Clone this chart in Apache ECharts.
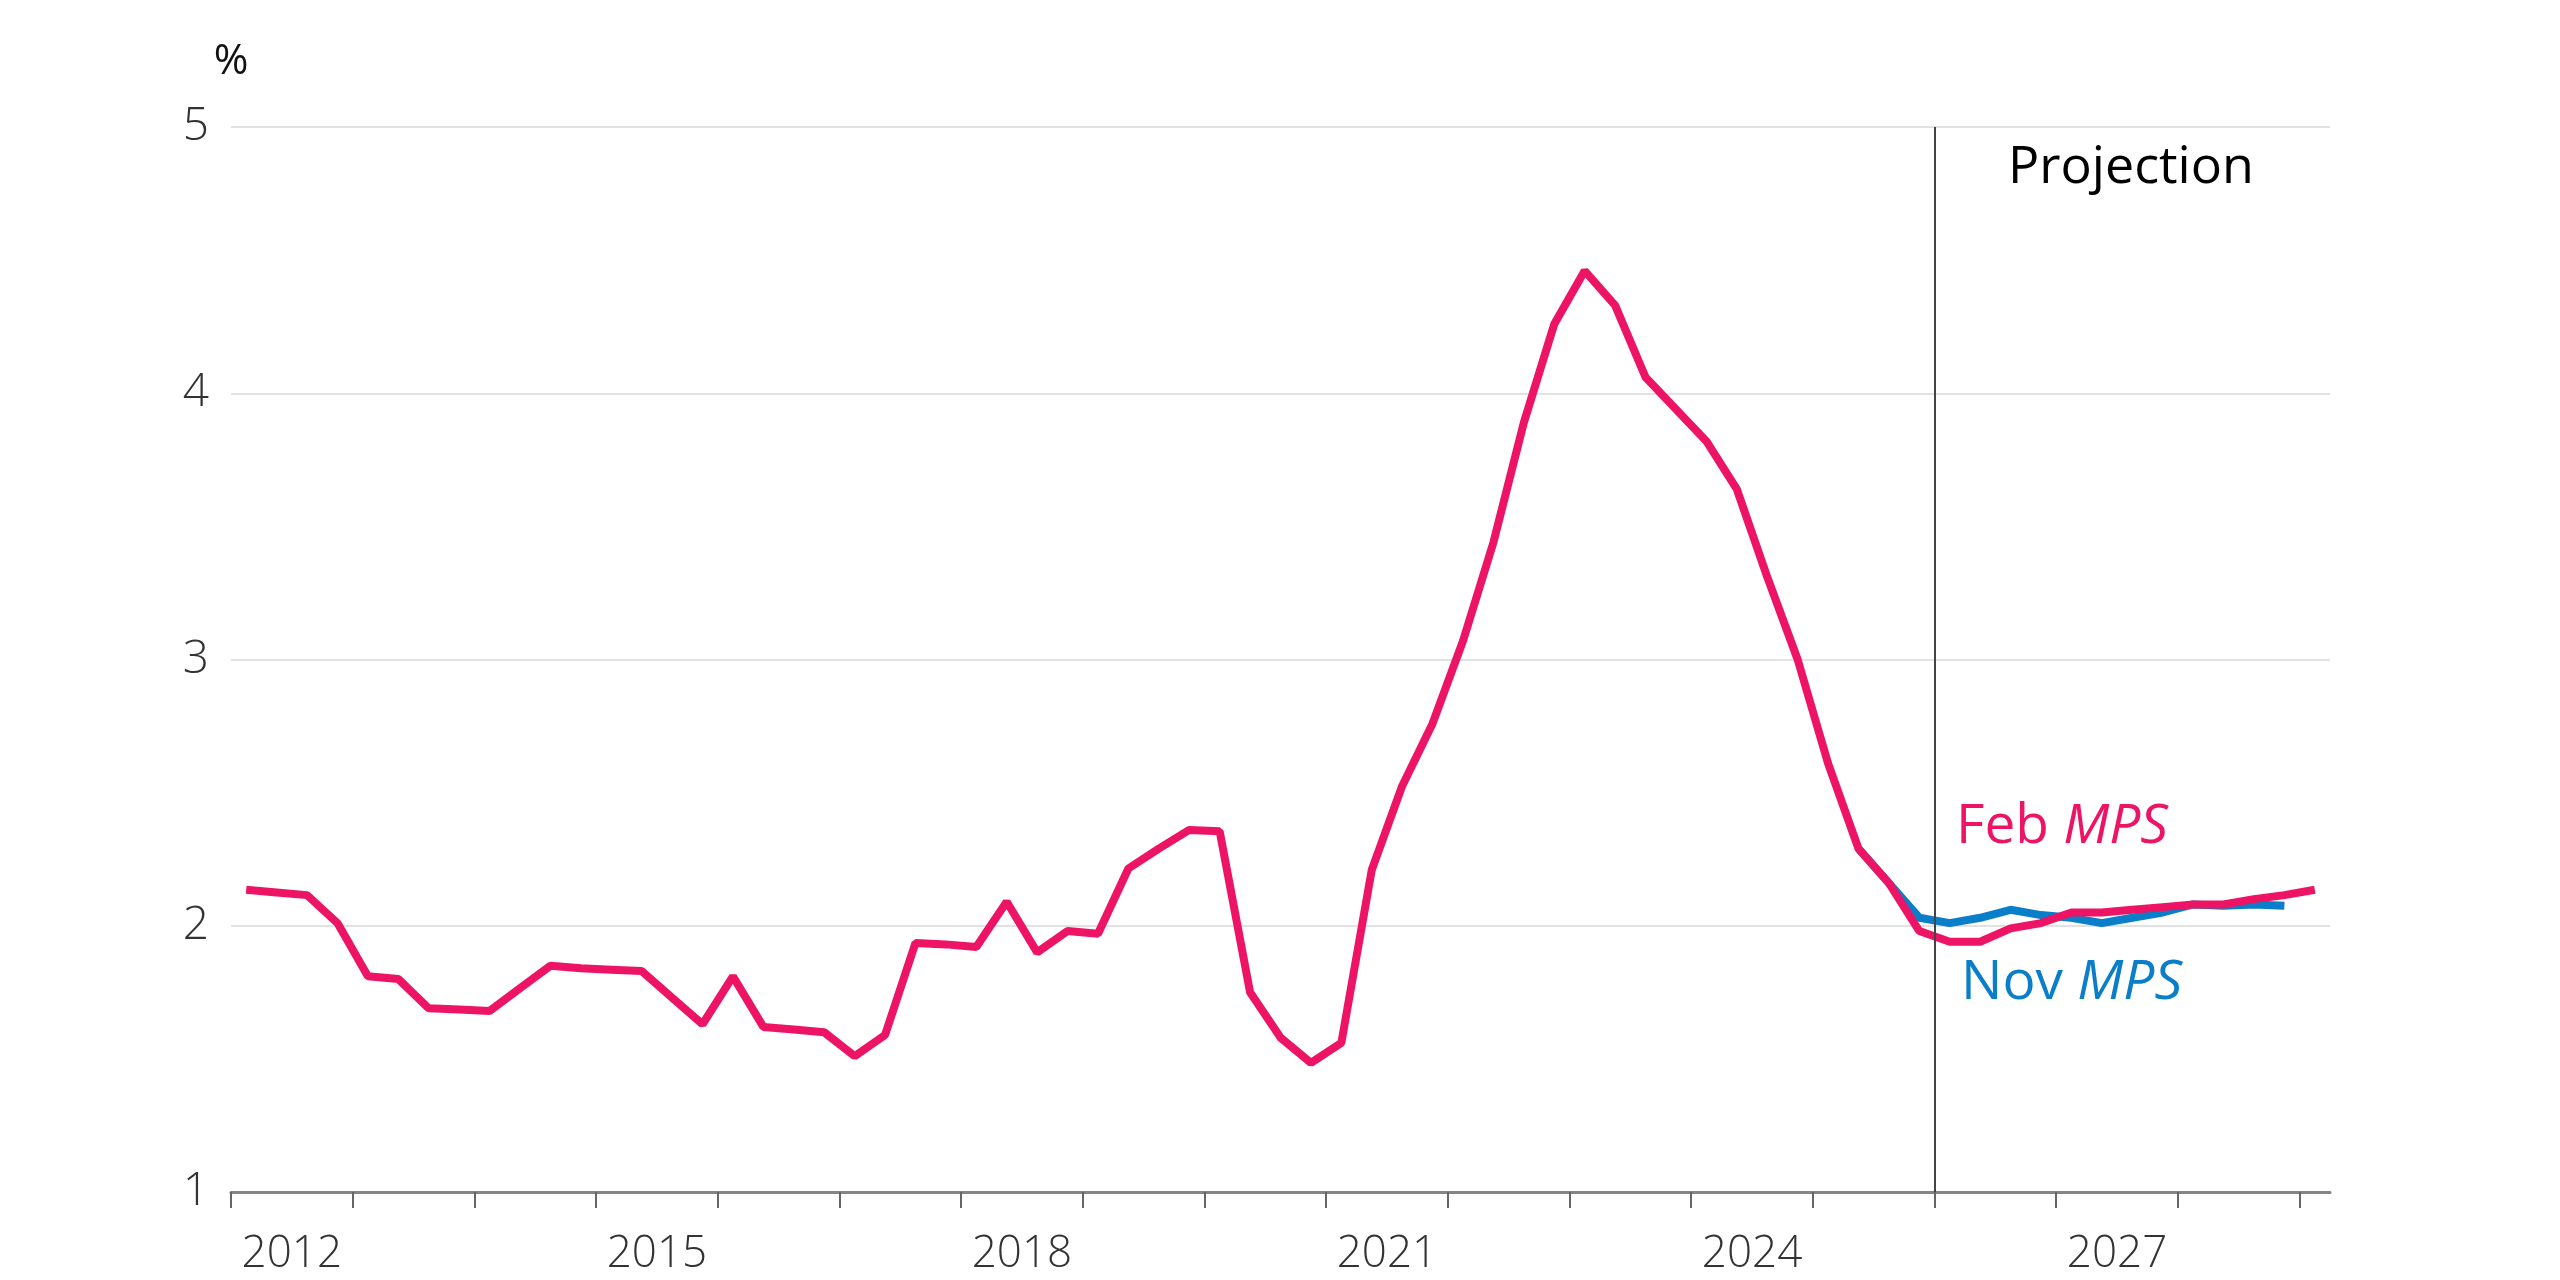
<!DOCTYPE html>
<html>
<head>
<meta charset="utf-8">
<script src="https://cdn.jsdelivr.net/npm/echarts@6/dist/echarts.min.js"></script>
<style>
  html, body { margin: 0; padding: 0; background: #fff; }
  #chart { width: 2560px; height: 1280px; }
</style>
</head>
<body>
<div id="chart"></div>
<script>
// quarterly data, first point = 2012 Q1
var startYear = 2012;
var febMps = [
    2.135, 2.125, 2.115, 2.01,
    1.81, 1.80, 1.69, 1.685,
    1.68, 1.765, 1.85, 1.84,
    1.835, 1.83, 1.73, 1.63,
    1.81, 1.62, 1.61, 1.60,
    1.51, 1.59, 1.935, 1.93,
    1.92, 2.09, 1.90, 1.98,
    1.97, 2.215, 2.29, 2.36,
    2.355, 1.75, 1.58, 1.485,
    1.56, 2.21, 2.525, 2.76,
    3.07, 3.44, 3.89, 4.26,
    4.46, 4.33, 4.06, 3.94,
    3.82, 3.64, 3.31, 3.00,
    2.61, 2.29, 2.16, 1.98,
    1.94, 1.94, 1.99, 2.01,
    2.05, 2.05, 2.06, 2.07,
    2.08, 2.08, 2.10, 2.115,
    2.135
];
// Nov MPS starts at 2025 Q2 (index 53), earlier history identical
var novStart = 53;
var novMps = [
    2.29, 2.16, 2.03,
    2.01, 2.03, 2.06, 2.04,
    2.03, 2.01, 2.03, 2.05,
    2.08, 2.075, 2.08, 2.075
];
var tickYears = [2012,2013,2014,2015,2016,2017,2018,2019,2020,2021,2022,2023,2024,2025,2026,2027,2028,2029];
var labelYears = [2012, 2015, 2018, 2021, 2024, 2027];
var projectionStart = 2026;

var pink = '#ED1466';
var blue = '#0A7EC8';
var font = '"Open Sans", "Noto Sans", sans-serif';

function toPairs(vals, offset) {
    var out = [];
    for (var i = 0; i < vals.length; i++) {
        out.push([startYear + (offset + i + 0.5) / 4, vals[i]]);
    }
    return out;
}

var chart = echarts.init(document.getElementById('chart'));
var option = {
    animation: false,
    backgroundColor: '#fff',
    grid: { left: 231, right: 230, top: 127, bottom: 88 },
    xAxis: {
        type: 'value',
        min: 2012,
        max: 2029.25,
        interval: 1,
        axisLine: { show: true, lineStyle: { color: '#858585', width: 3 } },
        axisTick: {
            show: true, length: 16, customValues: tickYears,
            lineStyle: { color: '#666', width: 2 }
        },
        axisLabel: {
            customValues: labelYears.map(function (y) { return y + 0.5; }),
            formatter: function (v) { return String(Math.floor(v)); },
            fontFamily: font, fontWeight: 300, fontSize: 44, color: '#333', margin: 40
        },
        splitLine: { show: false }
    },
    yAxis: {
        type: 'value',
        min: 1,
        max: 5,
        interval: 1,
        name: '%',
        nameLocation: 'end',
        nameGap: 44,
        nameTextStyle: { fontFamily: font, fontSize: 42, color: '#111', align: 'center' },
        axisLine: { show: false },
        axisTick: { show: false },
        axisLabel: { fontFamily: font, fontWeight: 300, fontSize: 46, color: '#333', margin: 22 },
        splitLine: { lineStyle: { color: '#e2e2e2', width: 2 } }
    },
    series: [
        {
            name: 'Nov MPS',
            type: 'line',
            data: toPairs(novMps, novStart),
            symbol: 'none',
            lineStyle: { color: blue, width: 8 },
            z: 2
        },
        {
            name: 'Feb MPS',
            type: 'line',
            data: toPairs(febMps, 0),
            symbol: 'none',
            lineStyle: { color: pink, width: 8 },
            z: 3,
            markLine: {
                silent: true,
                symbol: 'none',
                label: { show: false },
                lineStyle: { color: '#444', width: 2, type: 'solid' },
                data: [{ xAxis: projectionStart }]
            }
        }
    ],
    graphic: [
        {
            type: 'text', left: 2008, top: 142,
            style: { text: 'Projection', fontFamily: font, fontSize: 52, fill: '#000' }
        },
        {
            type: 'text', left: 1956, top: 800,
            style: {
                text: '{a|Feb }{b|MPS}',
                rich: {
                    a: { fontFamily: font, fontSize: 55, fill: pink },
                    b: { fontFamily: font, fontSize: 55, fill: pink, fontStyle: 'italic' }
                }
            }
        },
        {
            type: 'text', left: 1961, top: 956,
            style: {
                text: '{a|Nov }{b|MPS}',
                rich: {
                    a: { fontFamily: font, fontSize: 55, fill: blue },
                    b: { fontFamily: font, fontSize: 55, fill: blue, fontStyle: 'italic' }
                }
            }
        }
    ]
};
chart.setOption(option);
</script>
</body>
</html>
